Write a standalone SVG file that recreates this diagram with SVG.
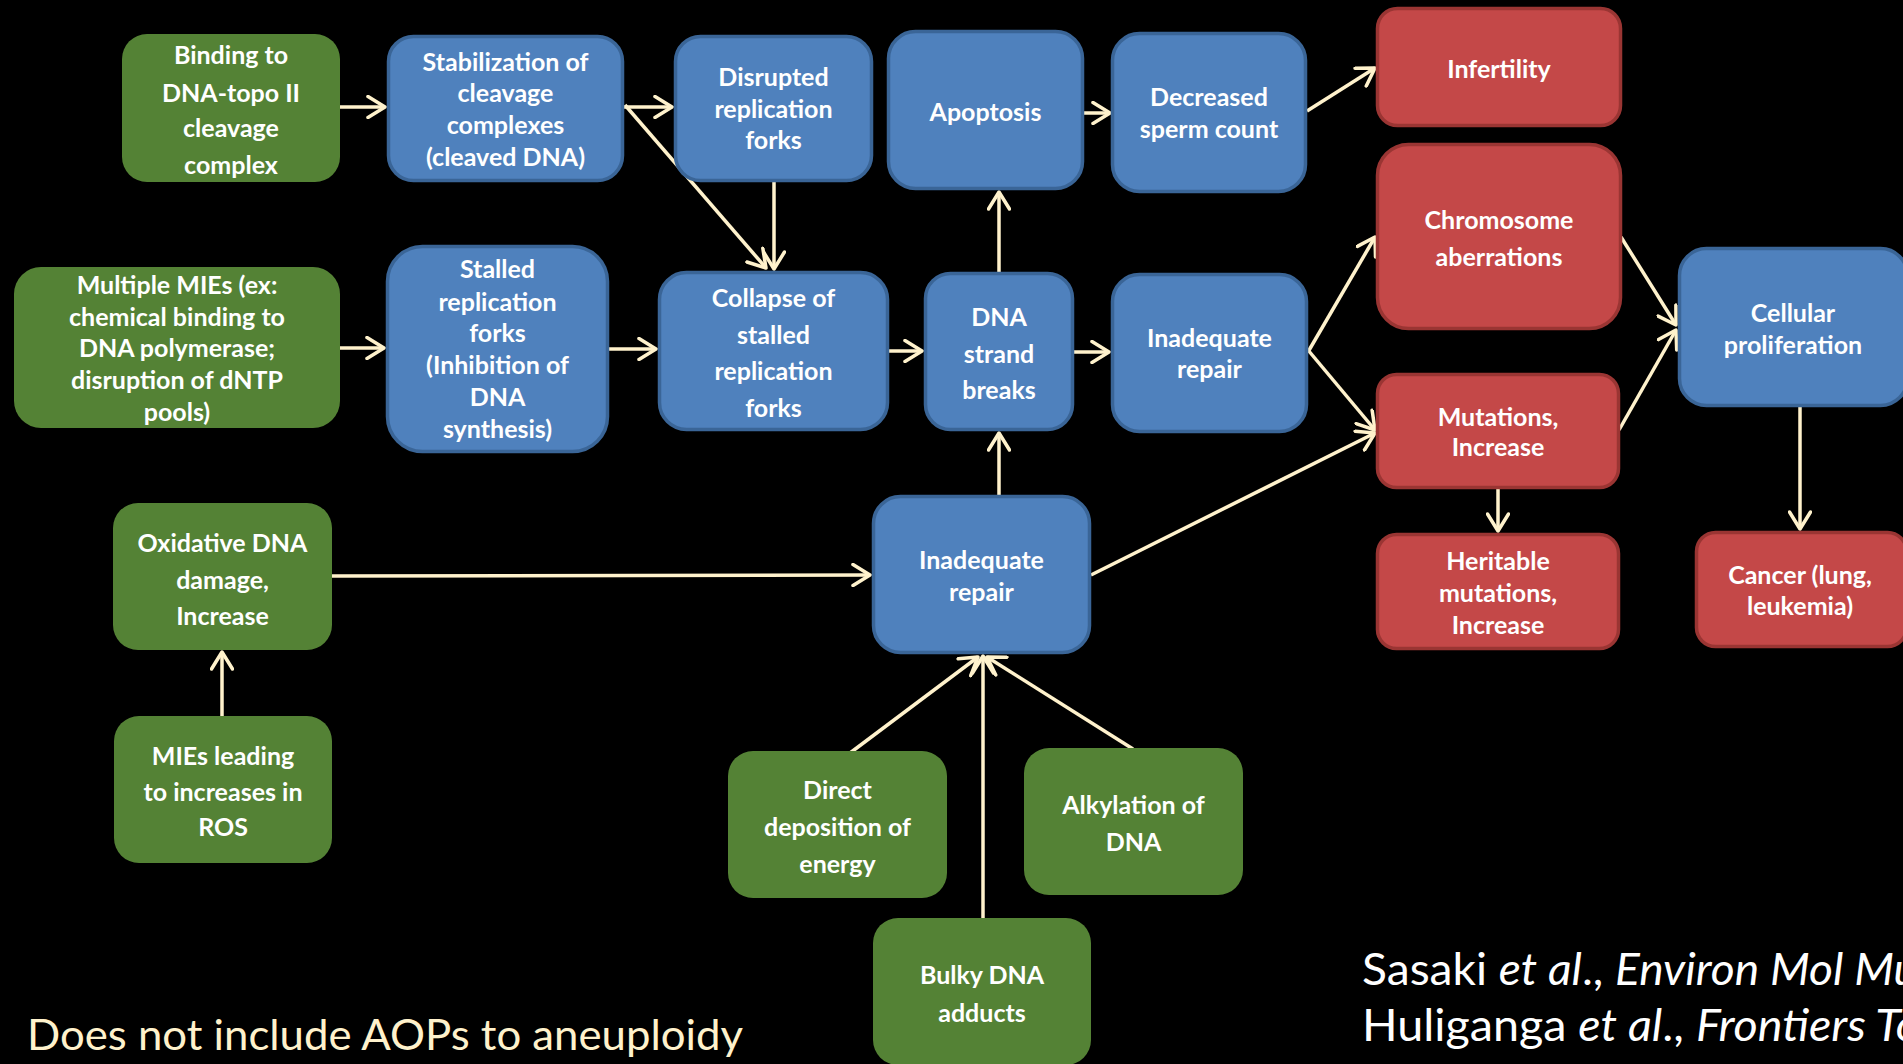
<svg xmlns="http://www.w3.org/2000/svg" width="1903" height="1064" viewBox="0 0 1903 1064">
  <defs>
    <style>
      .g { fill: #548235; }
      .b { fill: #4F81BD; stroke: #3A6597; stroke-width: 3.5; }
      .r { fill: #C44848; stroke: #9A3533; stroke-width: 3.5; }
      .t { font-family: Lato, "Open Sans", "Liberation Sans", sans-serif; font-weight: bold; font-size: 25px; fill: #FFFFFF; text-anchor: middle; }
      .c { stroke: #FFF2CC; stroke-width: 3.5; fill: none; marker-end: url(#ah); }
      .note { font-family: Lato, "Open Sans", "Liberation Sans", sans-serif; font-size: 42px; fill: #FFF2CC; }
      .cite { font-family: Lato, "Open Sans", "Liberation Sans", sans-serif; font-size: 45px; fill: #FFFFFF; }
      .it { font-style: italic; }
    </style>
    <!-- open chevron arrowhead -->
    <marker id="ah" viewBox="0 0 22 24" markerWidth="22" markerHeight="24" refX="19" refY="12" orient="auto" markerUnits="userSpaceOnUse">
      <path d="M2,1.5 L19,12 L2,22.5" fill="none" stroke="#FFF2CC" stroke-width="3.5" stroke-linecap="round" stroke-linejoin="round"/>
    </marker>
  </defs>

  <rect width="1903" height="1064" fill="#000000"/>

  <!-- connectors -->
  <g id="connectors">
    <line class="c" x1="340" y1="107" x2="385" y2="107"/>
    <line class="c" x1="624" y1="107" x2="672" y2="107"/>
    <line class="c" x1="625" y1="105" x2="766" y2="268"/>
    <line class="c" x1="774" y1="182" x2="774" y2="269"/>
    <line class="c" x1="1084" y1="113" x2="1110" y2="113"/>
    <line class="c" x1="1307" y1="111" x2="1375" y2="68"/>
    <line class="c" x1="340" y1="348" x2="384" y2="348"/>
    <line class="c" x1="609" y1="349" x2="656" y2="349"/>
    <line class="c" x1="889" y1="351" x2="922" y2="351"/>
    <line class="c" x1="999" y1="272" x2="999" y2="192"/>
    <line class="c" x1="1074" y1="352" x2="1109" y2="352"/>
    <line class="c" x1="1308" y1="352" x2="1375" y2="237"/>
    <line class="c" x1="1308" y1="350" x2="1375" y2="430"/>
    <line class="c" x1="999" y1="495" x2="999" y2="433"/>
    <line class="c" x1="1091" y1="575" x2="1375" y2="433"/>
    <line class="c" x1="332" y1="576" x2="870" y2="575"/>
    <line class="c" x1="222" y1="716" x2="222" y2="652"/>
    <line class="c" x1="850" y1="753" x2="978" y2="657"/>
    <line class="c" x1="983" y1="918" x2="983" y2="656"/>
    <line class="c" x1="1133" y1="749" x2="987" y2="657"/>
    <line class="c" x1="1621" y1="237" x2="1676" y2="325"/>
    <line class="c" x1="1619" y1="430" x2="1676" y2="330"/>
    <line class="c" x1="1498" y1="489" x2="1498" y2="531"/>
    <line class="c" x1="1800" y1="407" x2="1800" y2="529"/>
  </g>

  <!-- molecular initiating events (green) -->
  <g id="binding-topo2">
    <rect class="g" x="122" y="34" width="218" height="148" rx="25"/>
    <text class="t" x="231"><tspan x="231" y="64">Binding to</tspan><tspan x="231" y="101.7">DNA-topo II</tspan><tspan x="231" y="137">cleavage</tspan><tspan x="231" y="174">complex</tspan></text>
  </g>
  <g id="multiple-mies">
    <rect class="g" x="14" y="267" width="326" height="161" rx="27"/>
    <text class="t"><tspan x="177" y="294">Multiple MIEs (ex:</tspan><tspan x="177" y="325.7">chemical binding to</tspan><tspan x="177" y="357.3">DNA polymerase;</tspan><tspan x="177" y="389">disruption of dNTP</tspan><tspan x="177" y="420.7">pools)</tspan></text>
  </g>
  <g id="oxidative-damage">
    <rect class="g" x="113" y="503" width="219" height="147" rx="25"/>
    <text class="t"><tspan x="222.5" y="552">Oxidative DNA</tspan><tspan x="222.5" y="589">damage,</tspan><tspan x="222.5" y="625">Increase</tspan></text>
  </g>
  <g id="mies-ros">
    <rect class="g" x="114" y="716" width="218" height="147" rx="25"/>
    <text class="t"><tspan x="223" y="765">MIEs leading</tspan><tspan x="223" y="801">to increases in</tspan><tspan x="223" y="836">ROS</tspan></text>
  </g>
  <g id="direct-deposition">
    <rect class="g" x="728" y="751" width="219" height="147" rx="25"/>
    <text class="t"><tspan x="837.5" y="799">Direct</tspan><tspan x="837.5" y="836">deposition of</tspan><tspan x="837.5" y="873">energy</tspan></text>
  </g>
  <g id="alkylation">
    <rect class="g" x="1024" y="748" width="219" height="147" rx="25"/>
    <text class="t"><tspan x="1133.5" y="814">Alkylation of</tspan><tspan x="1133.5" y="851">DNA</tspan></text>
  </g>
  <g id="bulky-adducts">
    <rect class="g" x="873" y="918" width="218" height="147" rx="25"/>
    <text class="t"><tspan x="982" y="984">Bulky DNA</tspan><tspan x="982" y="1022">adducts</tspan></text>
  </g>

  <!-- key events (blue) -->
  <g id="stabilization">
    <rect class="b" x="388.5" y="36.5" width="234" height="144" rx="25"/>
    <text class="t"><tspan x="505.5" y="70.7">Stabilization of</tspan><tspan x="505.5" y="102.3">cleavage</tspan><tspan x="505.5" y="134">complexes</tspan><tspan x="505.5" y="165.7">(cleaved DNA)</tspan></text>
  </g>
  <g id="disrupted-forks">
    <rect class="b" x="675.5" y="36.5" width="196" height="144" rx="25"/>
    <text class="t"><tspan x="773.5" y="85.7">Disrupted</tspan><tspan x="773.5" y="118.3">replication</tspan><tspan x="773.5" y="149">forks</tspan></text>
  </g>
  <g id="apoptosis">
    <rect class="b" x="888.5" y="31.5" width="194" height="157" rx="27"/>
    <text class="t"><tspan x="985.5" y="120.7">Apoptosis</tspan></text>
  </g>
  <g id="sperm-count">
    <rect class="b" x="1112.5" y="33.5" width="193" height="158" rx="27"/>
    <text class="t"><tspan x="1209" y="105.7">Decreased</tspan><tspan x="1209" y="138.3">sperm count</tspan></text>
  </g>
  <g id="stalled-forks">
    <rect class="b" x="387.5" y="246.5" width="220" height="205" rx="35"/>
    <text class="t"><tspan x="497.5" y="278.3">Stalled</tspan><tspan x="497.5" y="310.7">replication</tspan><tspan x="497.5" y="342.3">forks</tspan><tspan x="497.5" y="374">(Inhibition of</tspan><tspan x="497.5" y="406.3">DNA</tspan><tspan x="497.5" y="438.3">synthesis)</tspan></text>
  </g>
  <g id="collapse-forks">
    <rect class="b" x="659.5" y="272.5" width="228" height="157" rx="27"/>
    <text class="t"><tspan x="773.5" y="306.7">Collapse of</tspan><tspan x="773.5" y="344">stalled</tspan><tspan x="773.5" y="380">replication</tspan><tspan x="773.5" y="417.3">forks</tspan></text>
  </g>
  <g id="strand-breaks">
    <rect class="b" x="925.5" y="273.5" width="147" height="156" rx="25"/>
    <text class="t"><tspan x="999" y="325.7">DNA</tspan><tspan x="999" y="363">strand</tspan><tspan x="999" y="399">breaks</tspan></text>
  </g>
  <g id="inadequate-repair-1">
    <rect class="b" x="1112.5" y="274.5" width="194" height="157" rx="27"/>
    <text class="t"><tspan x="1209.5" y="347.3">Inadequate</tspan><tspan x="1209.5" y="378.3">repair</tspan></text>
  </g>
  <g id="inadequate-repair-2">
    <rect class="b" x="873.5" y="496.5" width="216" height="156" rx="27"/>
    <text class="t"><tspan x="981.5" y="569">Inadequate</tspan><tspan x="981.5" y="600.5">repair</tspan></text>
  </g>
  <g id="cell-proliferation">
    <rect class="b" x="1679.5" y="248.5" width="228" height="157" rx="27"/>
    <text class="t"><tspan x="1793" y="322.3">Cellular</tspan><tspan x="1793" y="354">proliferation</tspan></text>
  </g>

  <!-- adverse outcomes (red) -->
  <g id="infertility">
    <rect class="r" x="1377.5" y="8.5" width="243" height="117" rx="20"/>
    <text class="t"><tspan x="1499" y="78.3">Infertility</tspan></text>
  </g>
  <g id="chromosome-aberrations">
    <rect class="r" x="1377.5" y="144.5" width="243" height="184" rx="31"/>
    <text class="t"><tspan x="1499" y="229">Chromosome</tspan><tspan x="1499" y="266.3">aberrations</tspan></text>
  </g>
  <g id="mutations">
    <rect class="r" x="1377.5" y="374.5" width="241" height="113" rx="19"/>
    <text class="t"><tspan x="1498" y="425.7">Mutations,</tspan><tspan x="1498" y="456.3">Increase</tspan></text>
  </g>
  <g id="heritable-mutations">
    <rect class="r" x="1377.5" y="534.5" width="241" height="114" rx="19"/>
    <text class="t"><tspan x="1498" y="569.8">Heritable</tspan><tspan x="1498" y="601.7">mutations,</tspan><tspan x="1498" y="633.6">Increase</tspan></text>
  </g>
  <g id="cancer">
    <rect class="r" x="1696.5" y="532.5" width="210" height="114" rx="19"/>
    <text class="t"><tspan x="1800" y="583.6">Cancer (lung,</tspan><tspan x="1800" y="615">leukemia)</tspan></text>
  </g>

  <!-- footnote and references -->
  <text class="note" x="27" y="1050" textLength="716" lengthAdjust="spacingAndGlyphs">Does not include AOPs to aneuploidy</text>
  <text class="cite" x="1362" y="985" textLength="556" lengthAdjust="spacingAndGlyphs">Sasaki <tspan class="it">et al</tspan>., <tspan class="it">Environ Mol Mu</tspan></text>
  <text class="cite" x="1362" y="1041" textLength="558" lengthAdjust="spacingAndGlyphs">Huliganga <tspan class="it">et al</tspan>., <tspan class="it">Frontiers To</tspan></text>
</svg>
